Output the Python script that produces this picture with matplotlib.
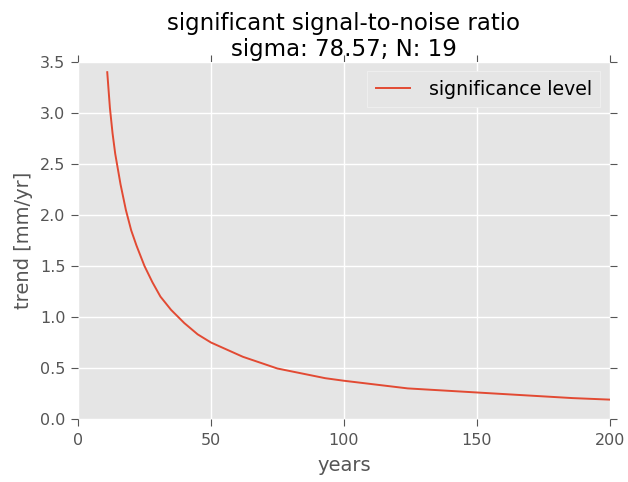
import matplotlib
matplotlib.use('Agg')
import matplotlib.pyplot as plt

plt.style.use('ggplot')

years = [11, 12, 13, 14, 16, 18, 20, 22, 25, 28, 31, 35, 40, 45, 50, 56, 62,
         75, 93, 100, 124, 150, 186, 200]
trend = [3.40, 3.05, 2.80, 2.60, 2.30, 2.05, 1.85, 1.70, 1.50, 1.34, 1.20, 1.07,
         0.94, 0.83, 0.75, 0.68, 0.61, 0.495, 0.40, 0.375, 0.30, 0.26, 0.205, 0.19]

fig = plt.figure(figsize=(6.28, 4.82), dpi=100)
ax = fig.add_axes([0.1242, 0.1307, 0.8468, 0.7407])

ax.plot(years, trend, color='#E24A33', linewidth=1.4, label='significance level')

ax.set_xlim(0, 200)
ax.set_ylim(0, 3.5)
ax.set_xticks([0, 50, 100, 150, 200])
ax.set_yticks([0.0, 0.5, 1.0, 1.5, 2.0, 2.5, 3.0, 3.5])
ax.tick_params(axis='both', which='major', direction='out', length=5, pad=4,
               labelsize=11.5, labelcolor='#555555', color='#555555',
               top=True, right=True)
ax.tick_params(axis='x', pad=5)
ax.grid(True, color='white', linewidth=1)
for s in ax.spines.values():
    s.set_visible(False)

ax.set_xlabel('years', fontsize=14, color='#555555', labelpad=6)
ax.set_ylabel('trend [mm/yr]', fontsize=14, color='#555555', labelpad=5)
ax.set_title('significant signal-to-noise ratio\nsigma: 78.57; N: 19',
             fontsize=16.5, color='black', pad=4)

leg = ax.legend(loc='upper right', fontsize=13.6, fancybox=False,
                handlelength=1.8, handletextpad=1.0, borderpad=0.45)
leg.get_frame().set_facecolor('#E5E5E5')
leg.get_frame().set_edgecolor('#F2F2F2')
leg.get_frame().set_alpha(1)
for t in leg.get_texts():
    t.set_color('black')

fig.savefig('out.png', dpi=100)
